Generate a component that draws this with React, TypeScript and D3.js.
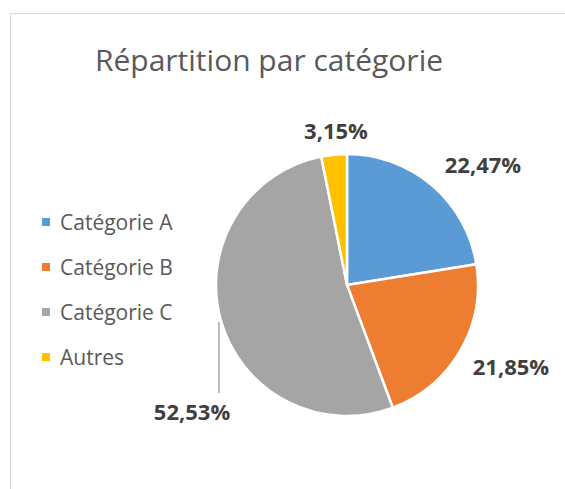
import * as d3 from "d3";
import { useEffect, useRef } from "react";

const categories = ["Catégorie A", "Catégorie B", "Catégorie C", "Autres"];
const values = [22.47, 21.85, 52.53, 3.15];
const colors = ["#5b9bd5", "#ed7d31", "#a5a5a5", "#ffc000"];
const labels = ["22,47%", "21,85%", "52,53%", "3,15%"];

export default function App() {
  const ref = useRef<SVGSVGElement>(null);

  useEffect(() => {
    const svg = d3.select(ref.current);
    svg.selectAll("*").remove();

    const width = 565;
    const height = 489;
    const cx = 347;
    const cy = 285;
    const radius = 131;
    const font = "'Open Sans', Lato, sans-serif";

    svg.attr("width", width).attr("height", height);

    // chart frame (right and bottom edges fall outside the picture)
    svg.append("rect")
      .attr("x", 10.5)
      .attr("y", 13.5)
      .attr("width", 600)
      .attr("height", 520)
      .attr("fill", "white")
      .attr("stroke", "#d9d9d9");

    svg.append("text")
      .attr("x", 269)
      .attr("y", 71)
      .attr("text-anchor", "middle")
      .attr("font-family", font)
      .attr("font-size", 30)
      .attr("fill", "#595959")
      .text("Répartition par catégorie");

    const data = categories.map((c, i) => ({ category: c, value: values[i], label: labels[i] }));

    const color = d3.scaleOrdinal<string, string>().domain(categories).range(colors);

    const pie = d3.pie<any>().sort(null).value(d => d.value);
    const arc = d3.arc<any>().innerRadius(0).outerRadius(radius);
    const arcs = pie(data);

    const g = svg.append("g").attr("transform", `translate(${cx},${cy})`);

    g.selectAll("path")
      .data(arcs)
      .join("path")
      .attr("d", arc)
      .attr("fill", d => color(d.data.category))
      .attr("stroke", "white")
      .attr("stroke-width", 2.5);

    // data labels, placed just outside the slices
    const labelPos: Record<string, [number, number]> = {
      "Catégorie A": [136, -121],
      "Catégorie B": [164, 81],
      "Catégorie C": [-155, 126],
      "Autres": [-11, -155],
    };

    g.selectAll("text.lbl")
      .data(arcs)
      .join("text")
      .attr("class", "lbl")
      .attr("x", d => labelPos[d.data.category][0])
      .attr("y", d => labelPos[d.data.category][1])
      .attr("text-anchor", "middle")
      .attr("dominant-baseline", "central")
      .attr("font-family", font)
      .attr("font-weight", "bold")
      .attr("font-size", 22)
      .attr("fill", "#404040")
      .text(d => d.data.label);

    // leader line for the big slice
    g.append("line")
      .attr("x1", -128)
      .attr("x2", -128)
      .attr("y1", 37)
      .attr("y2", 108)
      .attr("stroke", "#a6a6a6")
      .attr("stroke-width", 1.5);

    const legend = svg.append("g").attr("transform", "translate(42, 222)");

    legend.selectAll("rect")
      .data(data)
      .join("rect")
      .attr("x", 0)
      .attr("y", (d, i) => i * 45 - 4)
      .attr("width", 8)
      .attr("height", 8)
      .attr("fill", d => color(d.category));

    legend.selectAll("text")
      .data(data)
      .join("text")
      .attr("x", 18)
      .attr("y", (d, i) => i * 45)
      .attr("dominant-baseline", "central")
      .attr("font-family", font)
      .attr("font-size", 21)
      .attr("fill", "#595959")
      .text(d => d.category);
  }, []);

  return (
    <div style={{ position: "absolute", left: 0, top: 0 }}>
      <svg ref={ref}></svg>
    </div>
  );
}
